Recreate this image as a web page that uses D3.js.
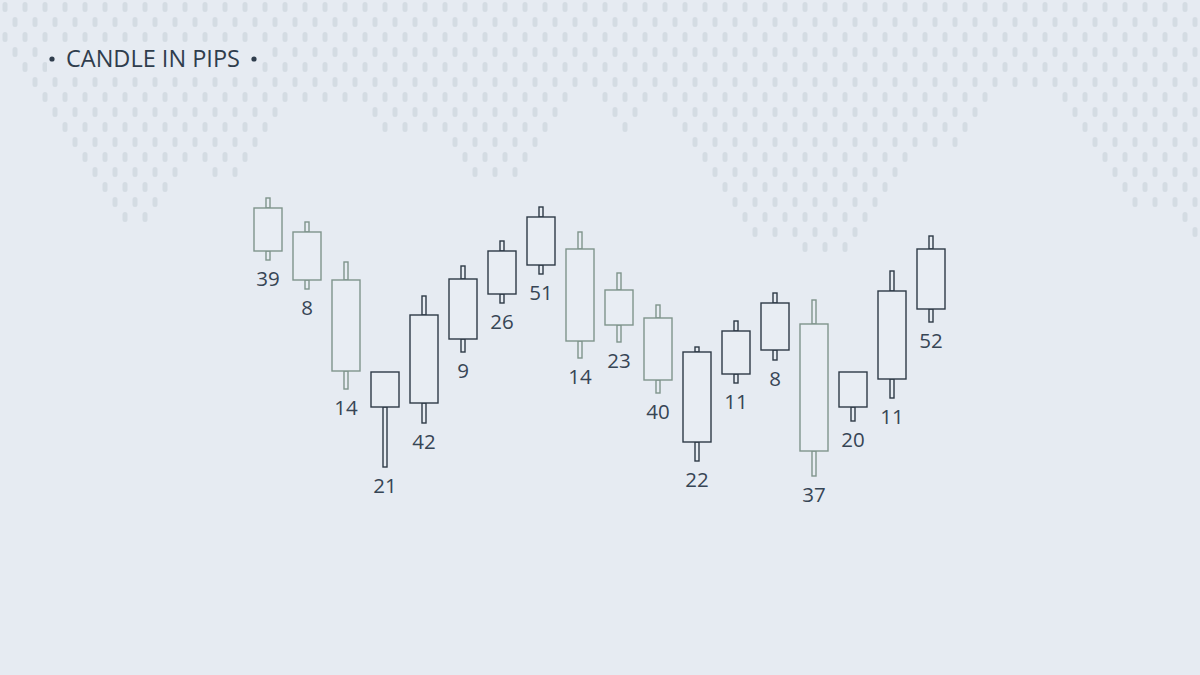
<!DOCTYPE html>
<html>
<head>
<meta charset="utf-8">
<script src="https://cdn.jsdelivr.net/npm/d3@7"></script>
<style>
    body { margin: 0; background: #e6ebf2; }
    .title { font-family: "Open Sans", sans-serif; font-size: 23.5px; fill: #2f3d4d; }
    .label { font-family: "Open Sans", sans-serif; font-size: 20.5px; fill: #374555; }
</style>
</head>
<body>
<script>
//candle labels (size in pips)
var pips = [39, 8, 14, 21, 42, 9, 26, 51, 14, 23, 40, 22, 11, 8, 37, 20, 11, 52];

//ohlc values (arbitrary price units)
var open  = [272, 248, 200, 73, 77, 141, 186, 215, 231, 190, 162, 38, 106, 130, 156, 73, 101, 171];
var high  = [282, 258, 218, 108, 184, 214, 239, 273, 248, 207, 175, 133, 159, 187, 180, 108, 209, 244];
var low   = [220, 191, 91, 13, 57, 128, 177, 206, 122, 138, 87, 19, 97, 120, 4, 59, 82, 158];
var close = [229, 200, 109, 108, 165, 201, 229, 263, 139, 155, 100, 128, 149, 177, 29, 108, 189, 231];

//background dot pattern, x ranges of each row
var dotRows = [
    [[5,1185]],
    [[15,1195]],
    [[5,1185]],
    [[15,1195]],
    [[25,1185]],
    [[35,1195]],
    [[45,565],[605,985],[1065,1185]],
    [[55,275],[375,555],[615,635],[675,975],[1075,1195]],
    [[65,265],[385,545],[625,625],[685,965],[1085,1185]],
    [[75,255],[455,535],[695,955],[1095,1195]],
    [[85,245],[465,525],[705,905],[1105,1185]],
    [[95,175],[215,235],[475,515],[715,895],[1115,1195]],
    [[105,165],[725,885],[1125,1185]],
    [[115,155],[735,875],[1135,1195]],
    [[125,145],[745,865],[1185,1185]],
    [[755,855],[1195,1195]],
    [[805,845]]
];

window.onload = setChart();

function setChart(){

    var width = 1200,
        height = 675;

    var svg = d3.select("body")
        .append("svg")
        .attr("width", width)
        .attr("height", height);

    svg.append("rect")
        .attr("width", width)
        .attr("height", height)
        .attr("fill", "#e6ebf2");

    //flatten dot rows into single dots
    var dots = [];
    dotRows.forEach(function(row, r){
        row.forEach(function(span){
            for (var x = span[0]; x <= span[1]; x += 20){
                dots.push({x: x, y: 7 + r * 15});
            };
        });
    });

    svg.selectAll(".dot")
        .data(dots)
        .enter()
        .append("rect")
        .attr("class", "dot")
        .attr("x", function(d){ return d.x - 2.5; })
        .attr("y", function(d){ return d.y - 5; })
        .attr("width", 5)
        .attr("height", 10)
        .attr("rx", 2.5)
        .attr("fill", "#d4dce3");

    //title, with a patch of background so the dots don't run through it
    svg.append("rect")
        .attr("x", 47)
        .attr("y", 44)
        .attr("width", 214)
        .attr("height", 29)
        .attr("fill", "#e6ebf2");

    svg.append("text")
        .attr("class", "title")
        .attr("x", 66)
        .attr("y", 67)
        .text("CANDLE IN PIPS");

    svg.selectAll(".bullet")
        .data([52, 254])
        .enter()
        .append("circle")
        .attr("cx", function(d){ return d; })
        .attr("cy", 59)
        .attr("r", 2.6)
        .attr("fill", "#2f3d4d");

    var x = d3.scalePoint()
        .domain(d3.range(pips.length))
        .range([268, 931]);

    var y = d3.scaleLinear()
        .domain([0, 290])
        .range([480, 190]);

    var bodyW = 28,
        wickW = 4;

    var candles = svg.selectAll(".candle")
        .data(pips.map(function(p, i){
            return {i: i, pips: p, o: open[i], h: high[i], l: low[i], c: close[i]};
        }))
        .enter()
        .append("g")
        .attr("class", "candle")
        .attr("transform", function(d){ return "translate(" + x(d.i) + ",0)"; })
        .attr("stroke", function(d){ return d.c >= d.o ? "#2e3a47" : "#7f948c"; })
        .attr("stroke-width", 1.4)
        .attr("fill", "#e8edf3");

    //upper wick
    candles.filter(function(d){ return d.h > Math.max(d.o, d.c); })
        .append("rect")
        .attr("x", -wickW / 2)
        .attr("y", function(d){ return y(d.h); })
        .attr("width", wickW)
        .attr("height", function(d){ return y(Math.max(d.o, d.c)) - y(d.h); });

    //lower wick
    candles.filter(function(d){ return d.l < Math.min(d.o, d.c); })
        .append("rect")
        .attr("x", -wickW / 2)
        .attr("y", function(d){ return y(Math.min(d.o, d.c)); })
        .attr("width", wickW)
        .attr("height", function(d){ return y(d.l) - y(Math.min(d.o, d.c)); });

    //body
    candles.append("rect")
        .attr("x", -bodyW / 2)
        .attr("y", function(d){ return y(Math.max(d.o, d.c)); })
        .attr("width", bodyW)
        .attr("height", function(d){ return y(Math.min(d.o, d.c)) - y(Math.max(d.o, d.c)); });

    candles.append("text")
        .attr("class", "label")
        .attr("stroke", "none")
        .attr("text-anchor", "middle")
        .attr("y", function(d){ return y(d.l) + 26; })
        .text(function(d){ return d.pips; });
};
</script>
</body>
</html>
